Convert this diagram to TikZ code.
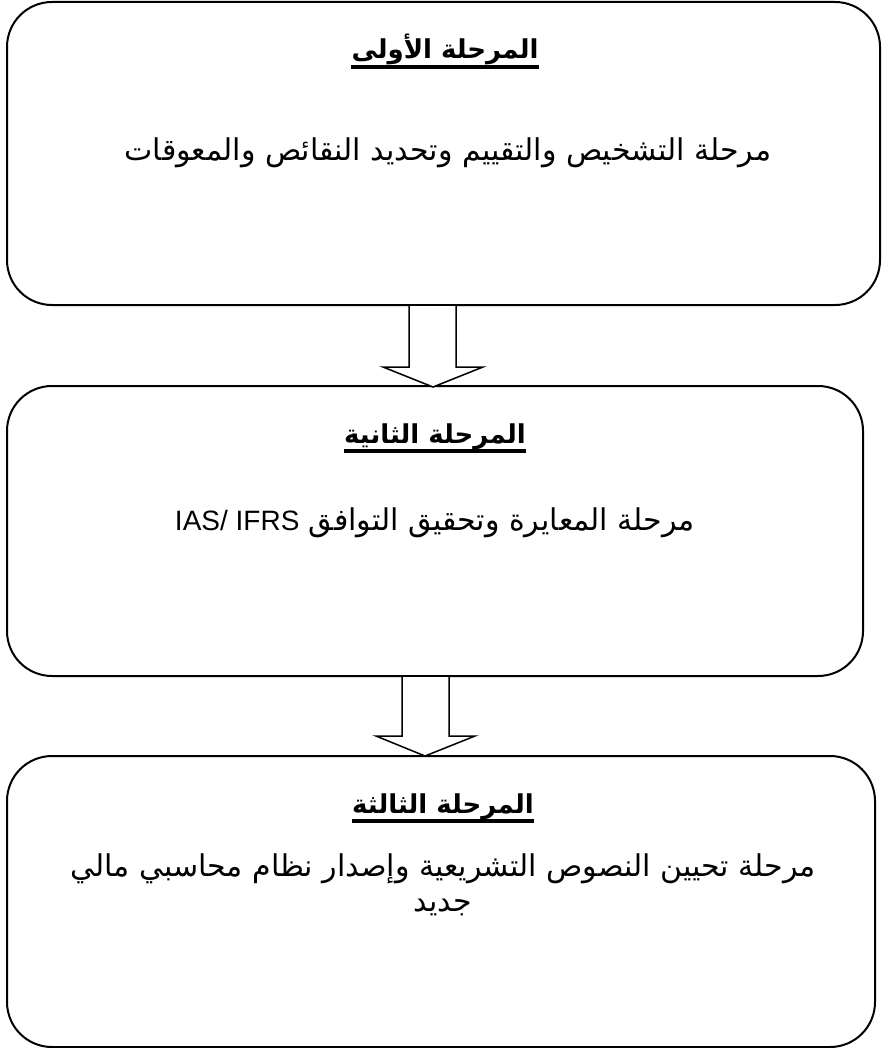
\documentclass[tikz,border=0pt]{standalone}
\usepackage{fontspec}
\setmainfont{DejaVu Sans}
\newfontfamily\arabicfont[Script=Arabic]{DejaVu Sans}
\newfontfamily\latinfont{Liberation Sans}
\TeXXeTstate=1
\tikzset{
  stagebox/.style={draw, line width=2pt, rounded corners=45pt, inner sep=0pt},
  titletext/.style={font=\arabicfont\bfseries\fontsize{26}{30}\selectfont, inner sep=0pt, anchor=base},
  bodytext/.style={font=\arabicfont\fontsize{30}{36}\selectfont, inner sep=0pt, anchor=base, align=center},
  ulline/.style={line width=3.5pt},
  blockarrow/.style={draw, line width=1.5pt, fill=white, line join=miter}
}
\begin{document}
\begin{tikzpicture}[x=1pt,y=-1pt]
\useasboundingbox (0,0) rectangle (881,1048);
% boxes
\node[stagebox, minimum width=873pt, minimum height=303pt] (b1) at (443.5,153.5) {};
\node[stagebox, minimum width=856pt, minimum height=290pt] (b2) at (435,531) {};
\node[stagebox, minimum width=868pt, minimum height=291pt] (b3) at (441,901.5) {};
% titles
\node[titletext] (t1) at (445,59) {\beginR المرحلة الأولى\endR};
\draw[ulline] (t1.west |- 0,67) -- (t1.east |- 0,67);
\node[titletext] (t2) at (435,443) {\beginR المرحلة الثانية\endR};
\draw[ulline] (t2.west |- 0,451) -- (t2.east |- 0,451);
\node[titletext] (t3) at (443,813) {\beginR المرحلة الثالثة\endR};
\draw[ulline] (t3.west |- 0,821) -- (t3.east |- 0,821);
% body texts
\node[bodytext] (x1) at (448,161) {\beginR مرحلة التشخيص والتقييم وتحديد النقائص والمعوقات\endR};
\node[bodytext] (x2) at (435,530) {\beginR مرحلة المعايرة وتحقيق التوافق {\latinfont\fontsize{28}{34}\selectfont\beginL IAS/ IFRS\endL}\endR};
\node[bodytext] (x3) at (443,876) {\beginR مرحلة تحيين النصوص التشريعية وإصدار نظام محاسبي مالي\endR};
\node[bodytext] (x4) at (443,911) {\beginR جديد\endR};
% block arrows
\draw[blockarrow] (409,305) -- (456,305) -- (456,367) -- (483,367) -- (433,387) -- (383,367) -- (409,367) -- cycle;
\draw[blockarrow] (402,676) -- (449,676) -- (449,736) -- (475,736) -- (425,756) -- (376,736) -- (402,736) -- cycle;
\end{tikzpicture}
\end{document}
